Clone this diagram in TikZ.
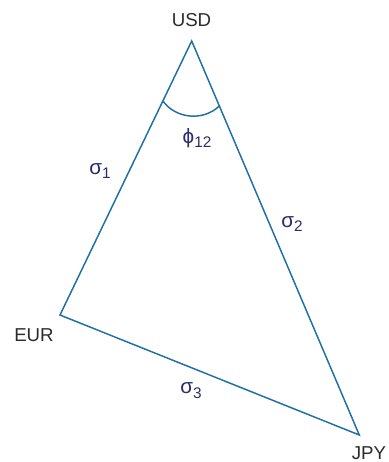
\documentclass[tikz,border=0pt]{standalone}
\usepackage{fontspec}
\setmainfont{Liberation Sans}
\definecolor{edgeblue}{HTML}{1F6EA6}
\definecolor{labnavy}{HTML}{2A2C6C}
\definecolor{txtgrey}{HTML}{2B2B2B}
\newcommand{\subtxt}[1]{\raisebox{-0.45ex}{\fontsize{11.5}{11.5}\selectfont #1}}
\begin{document}
\begin{tikzpicture}[x=0.75pt,y=-0.75pt,
  edge/.style={draw=edgeblue,line width=1.1pt,line join=miter},
  cur/.style={font=\fontsize{14}{15}\selectfont,text=txtgrey,inner sep=0pt},
  lab/.style={font=\fontsize{15.5}{16}\selectfont,text=labnavy,inner sep=0pt}]
\useasboundingbox (0,0) rectangle (389,462);
\coordinate (usd) at (191.7,41);
\coordinate (eur) at (60,315);
\coordinate (jpy) at (359.3,435);
\draw[edge] (usd) -- (eur) -- (jpy) -- cycle;
\coordinate (al) at (162.9,101);
\coordinate (ar) at (219.3,106);
\draw[edge] (al) to[bend right=49] (ar);
\node[cur] (tusd) at (191.5,20.5) {USD};
\node[cur] (teur) at (34,335.5) {EUR};
\node[cur] (tjpy) at (369,453) {JPY};
\node[lab] (s1) at (100,171) {σ\subtxt{1}};
\node[lab] (s2) at (292,224) {σ\subtxt{2}};
\node[lab] (s3) at (191,391) {σ\subtxt{3}};
\node[lab] (phi) at (197,138) {ϕ\subtxt{12}};
\end{tikzpicture}
\end{document}
